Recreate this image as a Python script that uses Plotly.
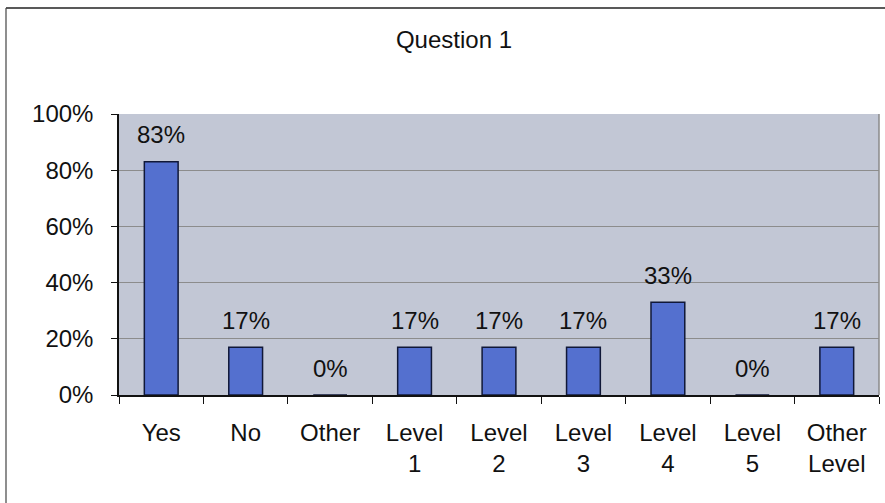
import plotly.graph_objects as go

categories = ["Yes", "No", "Other", "Level<br>1", "Level<br>2", "Level<br>3", "Level<br>4", "Level<br>5", "Other<br>Level"]
values = [0.83, 0.17, 0.0, 0.17, 0.17, 0.17, 0.33, 0.0, 0.17]
labels = ["83%", "17%", "0%", "17%", "17%", "17%", "33%", "0%", "17%"]
y_ticks = [0, 0.2, 0.4, 0.6, 0.8, 1.0]
y_tick_text = ["0%", "20%", "40%", "60%", "80%", "100%"]

FONT = "Liberation Sans, Arial, sans-serif"

fig = go.Figure()
fig.add_trace(go.Bar(
    x=categories, y=values,
    marker=dict(color="#5470cf", line=dict(color="#101838", width=1.5)),
    width=0.4,
    hoverinfo="skip",
))

for c, v, t in zip(categories, values, labels):
    fig.add_annotation(x=c, y=v, text=t, showarrow=False, yshift=27,
                       font=dict(family=FONT, size=24, color="#111111"))

W, H = 885, 503
fig.update_layout(
    width=W, height=H,
    margin=dict(l=119, r=6, t=114, b=108),
    paper_bgcolor="white",
    plot_bgcolor="#c2c7d5",
    showlegend=False,
    title=dict(text="Question 1", x=454 / W, xanchor="center", y=1 - 40 / H, yanchor="middle",
               font=dict(family=FONT, size=24, color="#111111")),
    font=dict(family=FONT, color="#111111"),
    xaxis=dict(
        type="category", showgrid=False, showline=True, linecolor="#111111", linewidth=1.5,
        ticks="outside", tickson="boundaries", ticklen=7, tickcolor="#111111",
        tickfont=dict(family=FONT, size=24, color="#111111"),
        ticklabelstandoff=15,
        range=[-0.5, 8.5],
    ),
    yaxis=dict(
        range=[0, 1.0], tickvals=y_ticks, ticktext=y_tick_text,
        showgrid=True, gridcolor="#8c8c8c", gridwidth=1,
        showline=True, linecolor="#111111", linewidth=1.5,
        ticks="outside", ticklen=6, tickcolor="#111111",
        tickfont=dict(family=FONT, size=24, color="#111111"),
        ticklabelstandoff=13,
        zeroline=False,
    ),
    shapes=[
        dict(type="line", xref="paper", yref="paper",
             x0=-113 / 760, x1=1.0 + 6 / 760, y0=1 + 106 / 281, y1=1 + 106 / 281,
             line=dict(color="#222222", width=1.5)),
        dict(type="line", xref="paper", yref="paper",
             x0=-113 / 760, x1=-113 / 760, y0=1 + 106 / 281, y1=-108 / 281,
             line=dict(color="#444444", width=1.2)),
        dict(type="line", xref="paper", yref="paper",
             x0=1, x1=1, y0=0, y1=1, line=dict(color="#8a8a8a", width=1.5)),
    ],
)

fig.write_html("out.html")
